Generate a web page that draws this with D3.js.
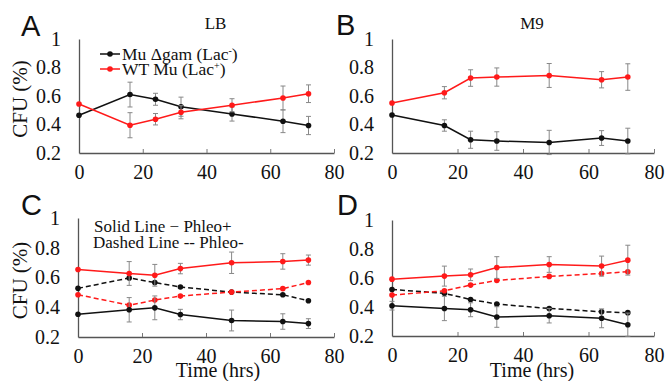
<!DOCTYPE html>
<html><head><meta charset="utf-8">
<script src="https://cdn.jsdelivr.net/npm/d3@7"></script>
<style>
html,body{margin:0;padding:0;background:#fff;}
svg{display:block;}
</style></head>
<body>
<svg id="chart" width="667" height="381"></svg>
<script>
// ---- data ----
const hours = [0, 16, 24, 32, 48, 64, 72];
const xTicks = [0, 20, 40, 60, 80];
const yTicks = [0.2, 0.4, 0.6, 0.8, 1];
const yTickLabels = ["0.2", "0.4", "0.6", "0.8", "1"];
const panelLetters = ["A", "B", "C", "D"];
const panelTitles = ["LB", "M9", "", ""];
const legendLabels = ["Mu \u0394gam (Lac", "WT Mu (Lac"];

const A_mu = [0.465, 0.61, 0.577, 0.525, 0.474, 0.423, 0.393];
const A_muErr = [0, 0.087, 0.042, 0.067, 0.05, 0.08, 0.064];
const A_wt = [0.544, 0.395, 0.437, 0.486, 0.535, 0.586, 0.616];
const A_wtErr = [0, 0.088, 0.04, 0.046, 0.046, 0.084, 0.062];

const B_wt = [0.551, 0.623, 0.726, 0.733, 0.744, 0.714, 0.733];
const B_wtErr = [0, 0.043, 0.058, 0.064, 0.084, 0.057, 0.093];
const B_mu = [0.467, 0.393, 0.293, 0.284, 0.274, 0.305, 0.284];
const B_muErr = [0, 0.04, 0.06, 0.065, 0.085, 0.052, 0.09];

const C_wtPlus = [0.654, 0.627, 0.615, 0.66, 0.699, 0.708, 0.717];
const C_wtPlusErr = [0, 0.08, 0.073, 0.035, 0.072, 0.052, 0.034];
const C_wtMinus = [0.484, 0.414, 0.448, 0.475, 0.502, 0.525, 0.566];
const C_muMinus = [0.527, 0.597, 0.566, 0.536, 0.502, 0.484, 0.444];
const C_muPlus = [0.353, 0.383, 0.396, 0.351, 0.311, 0.304, 0.29];
const C_muPlusErr = [0, 0.082, 0.08, 0.035, 0.07, 0.052, 0.033];

const D_wtPlus = [0.592, 0.613, 0.622, 0.672, 0.693, 0.682, 0.723];
const D_wtPlusErr = [0, 0.069, 0.04, 0.075, 0.054, 0.069, 0.103];
const D_wtMinus = [0.482, 0.512, 0.551, 0.583, 0.611, 0.631, 0.643];
const D_muMinus = [0.521, 0.494, 0.452, 0.42, 0.39, 0.367, 0.361];
const D_muPlus = [0.409, 0.39, 0.381, 0.331, 0.34, 0.322, 0.278];
const D_muPlusErr = [0.03, 0.084, 0.048, 0.071, 0.05, 0.065, 0.08];

const RED = "#ff1a1a", BLACK = "#111";

// ---- layout ----
const panels = [
  {letter: 0, lx: 21, ly: 36, left: 79, right: 334, top: 39, bottom: 153, yLabel: true, xLabel: false,
   series: [
     {v: A_mu, e: A_muErr, c: BLACK, dash: null},
     {v: A_wt, e: A_wtErr, c: RED, dash: null}]},
  {letter: 1, lx: 336, ly: 35, left: 392, right: 654, top: 39, bottom: 153, yLabel: false, xLabel: false,
   series: [
     {v: B_mu, e: B_muErr, c: BLACK, dash: null},
     {v: B_wt, e: B_wtErr, c: RED, dash: null}]},
  {letter: 2, lx: 21, ly: 215, left: 78, right: 334, top: 218, bottom: 337, yLabel: true, xLabel: true,
   series: [
     {v: C_muMinus, e: null, c: BLACK, dash: "5,3"},
     {v: C_wtMinus, e: null, c: RED, dash: "5,3"},
     {v: C_muPlus, e: C_muPlusErr, c: BLACK, dash: null},
     {v: C_wtPlus, e: C_wtPlusErr, c: RED, dash: null}]},
  {letter: 3, lx: 337, ly: 215, left: 392, right: 654, top: 220, bottom: 336, yLabel: false, xLabel: true,
   series: [
     {v: D_muMinus, e: null, c: BLACK, dash: "5,3"},
     {v: D_wtMinus, e: null, c: RED, dash: "5,3"},
     {v: D_muPlus, e: D_muPlusErr, c: BLACK, dash: null},
     {v: D_wtPlus, e: D_wtPlusErr, c: RED, dash: null}]}
];

const svg = d3.select("#chart");
const SERIF = "'Liberation Serif','Times New Roman',serif";
const SANS = "'Liberation Sans',Arial,sans-serif";

panels.forEach((p) => {
  const x = d3.scaleLinear().domain([0, 80]).range([p.left, p.right]);
  const y = d3.scaleLinear().domain([0.2, 1]).range([p.bottom, p.top]);
  const g = svg.append("g");

  // x axis
  const xa = g.append("g").attr("transform", `translate(0,${p.bottom})`)
    .call(d3.axisBottom(x).tickValues(xTicks).tickSizeInner(-4).tickSizeOuter(0).tickPadding(12));
  xa.select(".domain").attr("stroke", "#555").attr("stroke-width", 1.3);
  xa.selectAll(".tick line").attr("stroke", "#777").filter(d => d === 0).remove();
  xa.selectAll(".tick text").attr("font-family", SERIF).attr("font-size", 20).attr("fill", "#111").attr("dy", "0.71em");

  // y axis
  const ya = g.append("g").attr("transform", `translate(${p.left},0)`)
    .call(d3.axisLeft(y).tickValues(yTicks).tickFormat((d, i) => yTickLabels[i]).tickSize(0).tickPadding(18));
  ya.select(".domain").attr("stroke", "#555").attr("stroke-width", 1.3);
  ya.selectAll(".tick text").attr("font-family", SERIF).attr("font-size", 20).attr("fill", "#111");

  // letter
  svg.append("text").attr("x", p.lx).attr("y", p.ly)
    .attr("font-family", SANS).attr("font-size", 29).attr("fill", "#111")
    .text(panelLetters[p.letter]);

  if (panelTitles[p.letter]) {
    svg.append("text").attr("x", (p.left + p.right) / 2 + 9).attr("y", 29)
      .attr("text-anchor", "middle").attr("font-family", SERIF).attr("font-size", 17).attr("fill", "#111")
      .text(panelTitles[p.letter]);
  }
  if (p.yLabel) {
    svg.append("text").attr("transform", `translate(27,${(p.top + p.bottom) / 2 + 3}) rotate(-90)`)
      .attr("text-anchor", "middle").attr("font-family", SERIF).attr("font-size", 21).attr("fill", "#111")
      .text("CFU (%)");
  }
  if (p.xLabel) {
    svg.append("text").attr("x", p.left + 140).attr("y", 377)
      .attr("text-anchor", "middle").attr("font-family", SERIF).attr("font-size", 20).attr("fill", "#111")
      .text("Time (hrs)");
  }

  const line = d3.line().x((d, i) => x(hours[i])).y(d => y(d));
  p.series.forEach(s => {
    // error bars
    if (s.e) {
      const eb = g.append("g").attr("stroke", "#888").attr("stroke-width", 1);
      hours.forEach((h, i) => {
        if (!s.e[i]) return;
        const cx = x(h), y1 = y(s.v[i] - s.e[i]), y2 = y(s.v[i] + s.e[i]);
        eb.append("line").attr("x1", cx).attr("x2", cx).attr("y1", y1).attr("y2", y2);
        eb.append("line").attr("x1", cx - 2.5).attr("x2", cx + 2.5).attr("y1", y1).attr("y2", y1);
        eb.append("line").attr("x1", cx - 2.5).attr("x2", cx + 2.5).attr("y1", y2).attr("y2", y2);
      });
    }
    g.append("path").datum(s.v).attr("d", line).attr("fill", "none")
      .attr("stroke", s.c).attr("stroke-width", 1.5)
      .attr("stroke-dasharray", s.dash);
    g.append("g").selectAll("circle").data(s.v).join("circle")
      .attr("cx", (d, i) => x(hours[i])).attr("cy", d => y(d)).attr("r", 2.8).attr("fill", s.c);
  });
});

// legend for panel A
const legendColors = [BLACK, RED];
const legendSup = ["-", "+"];
legendLabels.forEach((lab, i) => {
  const ly = 54 + i * 15;
  svg.append("line").attr("x1", 100).attr("x2", 120).attr("y1", ly).attr("y2", ly)
    .attr("stroke", legendColors[i]).attr("stroke-width", 1.5);
  svg.append("circle").attr("cx", 110).attr("cy", ly).attr("r", 2.8).attr("fill", legendColors[i]);
  const t = svg.append("text").attr("x", 122).attr("y", ly + 5.5)
    .attr("font-family", SERIF).attr("font-size", 17.5).attr("fill", "#111");
  t.append("tspan").text(lab);
  t.append("tspan").attr("font-size", 10).attr("dy", -6).text(legendSup[i]);
  t.append("tspan").attr("dy", 6).text(")");
});

// legend for panel C
const lineNotes = ["Solid Line \u2212 Phleo+", "Dashed Line -- Phleo-"];
lineNotes.forEach((s, i) => {
  svg.append("text").attr("x", i ? 93 : 94).attr("y", 232 + i * 16)
    .attr("font-family", SERIF).attr("font-size", 17).attr("fill", "#111").text(s);
});
</script>
</body></html>
